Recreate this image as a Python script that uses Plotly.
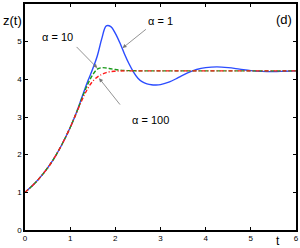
import plotly.graph_objects as go

t = [0, 0.2, 0.4, 0.6, 0.8, 1.0, 1.1, 1.2, 1.3, 1.4, 1.5, 1.6, 1.7, 1.8, 1.9, 2.0,
     2.1, 2.2, 2.3, 2.4, 2.5, 2.6, 2.7, 2.8, 2.9, 3.0, 3.2, 3.4, 3.6, 3.8, 4.0,
     4.25, 4.5, 4.75, 5.0, 5.25, 5.5, 5.75, 6.0]
z_alpha1 = [1.0, 1.22, 1.49, 1.82, 2.23, 2.72, 3.0, 3.32, 3.66, 3.98, 4.28, 4.62, 5.08,
            5.42, 5.40, 5.22, 4.97, 4.68, 4.42, 4.2, 4.03, 3.93, 3.88, 3.855, 3.85, 3.86,
            3.93, 4.05, 4.17, 4.26, 4.31, 4.33, 4.31, 4.27, 4.23, 4.21, 4.205, 4.215, 4.225]
z_alpha10 = [1.0, 1.22, 1.49, 1.82, 2.23, 2.72, 3.0, 3.3, 3.62, 3.9, 4.12, 4.27, 4.31,
             4.3, 4.28, 4.26, 4.245, 4.235, 4.23, 4.228, 4.225, 4.225, 4.225, 4.225, 4.225,
             4.225, 4.225, 4.225, 4.225, 4.225, 4.225, 4.225, 4.225, 4.225, 4.225, 4.225,
             4.225, 4.225, 4.225]
z_alpha100 = [1.0, 1.22, 1.49, 1.82, 2.23, 2.72, 3.0, 3.28, 3.55, 3.78, 3.95, 4.06, 4.13,
              4.18, 4.205, 4.215, 4.222, 4.225, 4.225, 4.225, 4.225, 4.225, 4.225, 4.225,
              4.225, 4.225, 4.225, 4.225, 4.225, 4.225, 4.225, 4.225, 4.225, 4.225, 4.225,
              4.225, 4.225, 4.225, 4.225]
ticks = [0, 1, 2, 3, 4, 5, 6]

FONT = "Liberation Sans, Arial, sans-serif"

fig = go.Figure()
fig.add_trace(go.Scatter(x=t, y=z_alpha1, mode="lines", line=dict(color="#2b4cff", width=1.4, shape="spline")))
fig.add_trace(go.Scatter(x=t, y=z_alpha10, mode="lines", line=dict(color="#1a9a1a", width=1.4, dash="4px,2px", shape="spline")))
fig.add_trace(go.Scatter(x=t, y=z_alpha100, mode="lines", line=dict(color="#ff1a1a", width=1.4, dash="4px,2px,1px,2px", shape="spline")))

axis_common = dict(showgrid=False, zeroline=False, showline=True, linecolor="black", linewidth=1.5,
                   mirror="allticks", ticks="inside", ticklen=3, tickcolor="black",
                   tickvals=ticks, ticktext=[str(v) for v in ticks], automargin=False,
                   tickfont=dict(family=FONT, size=8, color="black"))
fig.update_xaxes(range=[0, 6], **axis_common)
fig.update_yaxes(range=[0, 6], **axis_common)

arrow = dict(xref="x", yref="y", axref="x", ayref="y", showarrow=True, arrowhead=2,
             arrowsize=1, arrowwidth=0.8, arrowcolor="#777777", text="")
fig.add_annotation(x=2.16, y=4.83, ax=2.71, ay=5.36, **arrow)
fig.add_annotation(x=1.6, y=4.3, ax=1.11, ay=4.9, **arrow)
fig.add_annotation(x=1.64, y=4.03, ax=2.13, ay=3.29, **arrow)

lab = dict(xref="x", yref="y", showarrow=False, font=dict(family=FONT, size=11, color="black"))
fig.add_annotation(x=3.0, y=5.54, text="α = 1", **lab)
fig.add_annotation(x=0.71, y=5.12, text="α = 10", **lab)
fig.add_annotation(x=2.78, y=2.92, text="α = 100", **lab)

pix = dict(xref="paper", yref="paper", showarrow=False, xanchor="center", yanchor="middle")
fig.add_annotation(x=-0.046, y=0.925, text="z(t)", font=dict(family=FONT, size=13, color="black"), **pix)
fig.add_annotation(x=0.955, y=0.93, text="(d)", font=dict(family=FONT, size=13, color="black"), **pix)
fig.add_annotation(x=0.934, y=-0.05, text="t", font=dict(family=FONT, size=12, color="black"), **pix)

fig.update_layout(width=300, height=248, margin=dict(l=25, r=4, t=4, b=18),
                  paper_bgcolor="white", plot_bgcolor="white", showlegend=False)

fig.write_html("out.html", config={"displayModeBar": False},
               post_script="document.body.style.margin='0';document.body.style.padding='0';")
